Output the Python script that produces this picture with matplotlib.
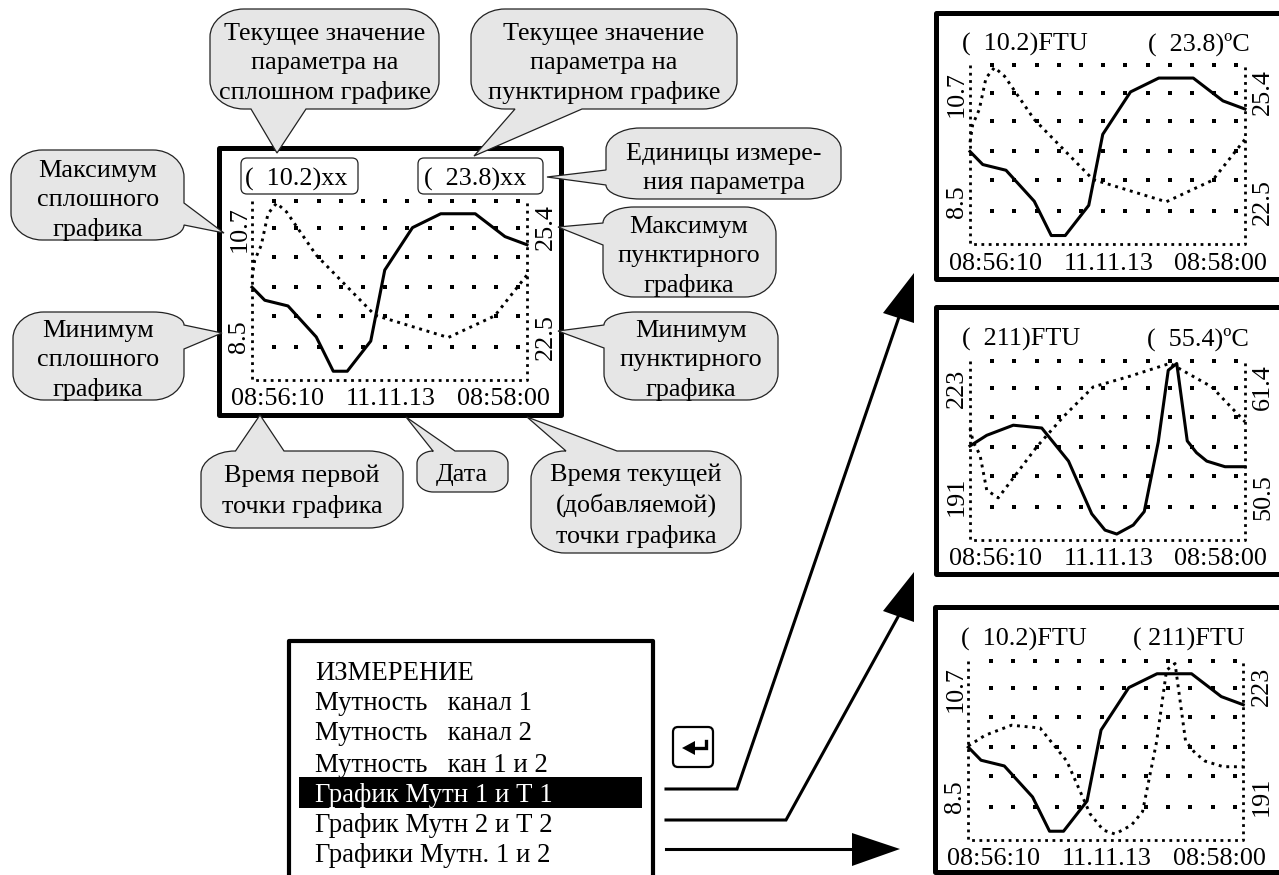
import numpy as np
import matplotlib
matplotlib.use("Agg")
import matplotlib.pyplot as plt
from matplotlib.path import Path
from matplotlib.patches import PathPatch, FancyBboxPatch, Polygon, Rectangle

plt.rcParams['font.family'] = ['Liberation Serif', 'DejaVu Sans']

W, H = 1279, 875
FS = 18.8
GREY = '#e6e6e6'

# seconds since 08:56:10 and values
turb1_t = [0, 5.1, 14.4, 25.7, 32.5, 38.1, 47.5, 53.1, 64.2, 75.5, 89.3, 101.2, 110]
turb1_v = [9.64, 9.48, 9.41, 9.03, 8.61, 8.61, 8.98, 9.85, 10.37, 10.54, 10.54, 10.26, 10.16]
temp1_t = [0, 1.1, 3.7, 6.4, 9.8, 13.8, 25.7, 49.2, 78.5, 97.1, 110]
temp1_v = [24.15, 24.44, 24.68, 25.19, 25.36, 25.22, 24.52, 23.55, 23.19, 23.54, 24.20]
turb2_t = [0, 6.7, 17.3, 28.7, 39.4, 48.7, 54, 58.7, 65.3, 69.7, 75.3, 79.3, 82.7, 86.9, 90.6, 94.7, 102, 110]
turb2_v = [207.8, 209.7, 211.5, 211, 205.1, 195.7, 192.8, 192.1, 193.7, 196.1, 208.5, 221.3, 222.5, 208.7, 206.6, 205.1, 204.1, 204.1]
temp2_t = [0, 1.3, 4, 6.7, 11.3, 26.7, 37.3, 49.3, 64, 80, 96.7, 110]
temp2_v = [57.29, 56.47, 55.67, 53.54, 53.07, 56.17, 57.99, 59.81, 60.46, 61.24, 59.81, 57.69]

time_labels = ['08:56:10', '11.11.13', '08:58:00']
menu_items = ['ИЗМЕРЕНИЕ', 'Мутность   канал 1', 'Мутность   канал 2', 'Мутность   кан 1 и 2',
              'График Мутн 1 и Т 1', 'График Мутн 2 и Т 2', 'Графики Мутн. 1 и 2']

fig = plt.figure(figsize=(W / 100, H / 100), dpi=100)
bg = fig.add_axes([0, 0, 1, 1])
bg.set_xlim(0, W)
bg.set_ylim(H, 0)
bg.axis('off')


def label(x, y, s, **kw):
    kw.setdefault('ha', 'center')
    kw.setdefault('va', 'center')
    bg.text(x, y, s, fontsize=FS, color='black', zorder=6, **kw)


def bubble(x0, y0, x1, y1, side, a, b, tip, text, tx, ty):
    # rounded box with a tail, side says which edge the tail leaves from
    rx = min(34, (x1 - x0) * 0.18)
    ry = min(28, (y1 - y0) * 0.3)
    tr = br = bl = tl = ry
    # keep the corners next to the tail clear of it
    if side == 'right':
        tr = min(ry, a - y0)
        br = min(ry, y1 - b)
    if side == 'left':
        tl = min(ry, a - y0)
        bl = min(ry, y1 - b)
    k = 0.55
    v = [(x0 + rx, y0)]
    c = [Path.MOVETO]
    if side == 'top':
        v += [(a, y0), tip, (b, y0)]
        c += [Path.LINETO] * 3
    v += [(x1 - rx, y0), (x1 - rx + k * rx, y0), (x1, y0 + tr - k * tr), (x1, y0 + tr)]
    c += [Path.LINETO, Path.CURVE4, Path.CURVE4, Path.CURVE4]
    if side == 'right':
        v += [(x1, a), tip, (x1, b)]
        c += [Path.LINETO] * 3
    v += [(x1, y1 - br), (x1, y1 - br + k * br), (x1 - rx + k * rx, y1), (x1 - rx, y1)]
    c += [Path.LINETO, Path.CURVE4, Path.CURVE4, Path.CURVE4]
    if side == 'bottom':
        v += [(b, y1), tip, (a, y1)]
        c += [Path.LINETO] * 3
    v += [(x0 + rx, y1), (x0 + rx - k * rx, y1), (x0, y1 - bl + k * bl), (x0, y1 - bl)]
    c += [Path.LINETO, Path.CURVE4, Path.CURVE4, Path.CURVE4]
    if side == 'left':
        v += [(x0, b), tip, (x0, a)]
        c += [Path.LINETO] * 3
    v += [(x0, y0 + tl), (x0, y0 + tl - k * tl), (x0 + rx - k * rx, y0), (x0 + rx, y0)]
    c += [Path.LINETO, Path.CURVE4, Path.CURVE4, Path.CURVE4]
    v.append(v[0])
    c.append(Path.CLOSEPOLY)
    bg.add_patch(PathPatch(Path(v, c), fc=GREY, ec='#222222', lw=0.9, zorder=4))
    bg.text(tx, ty + 2.5, text, fontsize=FS, ha='center', va='center', linespacing=1.42, zorder=6)


def screen(fx, fy, fw, fh, px, py, left, right, lmin, lmax, rmin, rmax, lab_l, lab_r, lab_rx):
    # frame, then the plot area as its own axes
    bg.add_patch(Rectangle((fx, fy), fw, fh, fc='white', ec='black', lw=3.6, joinstyle='round', zorder=2))
    ax = fig.add_axes([px / W, 1 - (py + 179.5) / H, 275 / W, 179.5 / H])
    ax2 = ax.twinx()
    for a in (ax, ax2):
        a.set_xlim(0, 110)
        a.axis('off')
    ax.set_ylim(lmin, lmax)
    ax2.set_ylim(rmin, rmax)
    ax.set_zorder(ax2.get_zorder() + 1)

    grid_x = np.arange(0, 13) * 22.2 / 275
    grid_y = [0.186, 0.357, 0.52, 0.688, 0.846, 1.0]
    gx, gy = np.meshgrid(grid_x[1:], grid_y)
    ax.scatter(gx.ravel(), gy.ravel(), s=5, marker='s', c='black', linewidths=0,
               transform=ax.transAxes, clip_on=False)
    ax.plot([0, 0, 1, 1], [1, 0, 0, 1], color='black', lw=2, ls=(0, (1, 1.63)),
            dash_capstyle='butt', transform=ax.transAxes, clip_on=False)

    ax.plot(left[0], left[1], color='black', lw=2.2, solid_joinstyle='round', clip_on=False)
    ax2.plot(right[0], right[1], color='black', lw=2.1, ls=(0, (1, 1.63)), dash_capstyle='butt', clip_on=False)

    # rotated scale limits and bottom line
    lx, rx = fx + 21, fx + 327
    label(lx, fy + 81.5, str(lmax), rotation=90)
    label(lx, fy + 189.5, str(lmin), rotation=90)
    label(rx, fy + 79.5, str(rmax), rotation=90)
    label(rx, fy + 189.5, str(rmin), rotation=90)
    for cx, s in zip((59.5, 172.5, 284.5), time_labels):
        label(fx + cx, fy + 251.5, s)
    label(fx + 26.5, fy + 32, lab_l, ha='left')
    label(fx + lab_rx, fy + 32, lab_r, ha='left')


turb1 = (turb1_t, turb1_v)
temp1 = (temp1_t, temp1_v)
turb2 = (turb2_t, turb2_v)
temp2 = (temp2_t, temp2_v)

screen(218.5, 147.5, 342, 267, 252, 200.7, turb1, temp1, 8.5, 10.7, 22.5, 25.4, '(  10.2)xx', '(  23.8)xx', 206)
screen(936, 12.5, 345, 266.5, 970, 65, turb1, temp1, 8.5, 10.7, 22.5, 25.4, '(  10.2)FTU', '(  23.8)ºC', 212)
screen(936, 307.3, 345, 267, 970, 360.7, turb2, temp2, 191, 223, 50.5, 61.4, '(  211)FTU', '(  55.4)ºC', 211)
screen(934.5, 607.3, 347, 264.5, 968.3, 660.7, turb1, turb2, 8.5, 10.7, 191, 223, '(  10.2)FTU', '( 211)FTU', 198.5)

# white boxes round the two values on the main screen
for x0, x1 in ((241, 358), (418, 543)):
    bg.add_patch(FancyBboxPatch((x0, 158), x1 - x0, 36, boxstyle='round,pad=0,rounding_size=6',
                                fc='white', ec='#222222', lw=0.9, zorder=3))

bubble(210, 9, 439, 109, 'bottom', 251, 306, (277, 153), 'Текущее значение\nпараметра на\nсплошном графике', 325, 61)
bubble(471, 9, 737, 109, 'bottom', 515, 582, (474, 156), 'Текущее значение\nпараметра на\nпунктирном графике', 604, 61)
bubble(606, 128, 841, 199, 'left', 170, 185, (547, 177), 'Единицы измере-\nния параметра', 724, 166)
bubble(11, 150, 184, 240, 'right', 203, 225, (224, 233), 'Максимум\nсплошного\nграфика', 98, 198)
bubble(13, 312, 184, 400, 'right', 325, 349, (222, 333), 'Минимум\nсплошного\nграфика', 98, 358)
bubble(603, 207, 776, 297, 'left', 223, 245, (558, 227), 'Максимум\nпунктирного\nграфика', 689, 254)
bubble(604, 312, 778, 400, 'left', 325, 348, (558, 331), 'Минимум\nпунктирного\nграфика', 691, 358)
bubble(201, 451, 403, 528, 'top', 235.5, 284, (260, 415), 'Время первой\nточки графика', 302, 489)
bubble(417, 451, 508, 492, 'top', 433, 455, (406, 417), 'Дата', 462, 473)
bubble(531, 451, 741, 553, 'top', 566, 617, (527, 417), 'Время текущей\n(добавляемой)\nточки графика', 636, 503)

# menu
bg.add_patch(Rectangle((288.5, 641), 364, 250, fc='white', ec='black', lw=3, joinstyle='round', zorder=2))
bg.add_patch(Rectangle((299, 777), 343, 31, fc='black', ec='none', zorder=3))
menu_y = [673, 704, 734, 765, 795, 825, 856]
for i, (s, y) in enumerate(zip(menu_items, menu_y)):
    bg.text(315, y, s, fontsize=19.3, ha='left', va='center', zorder=6, color='white' if i == 4 else 'black')

# enter key
bg.add_patch(FancyBboxPatch((673, 727), 40, 40, boxstyle='round,pad=0,rounding_size=5',
                            fc='white', ec='black', lw=1.6, zorder=3))
bg.add_patch(Polygon([(682, 748), (695, 741), (695, 755)], fc='black', ec='none', zorder=4))
bg.plot([694, 706, 706], [748, 748, 741], color='black', lw=2.4, zorder=4, solid_joinstyle='miter')

# arrows to the three screens
bg.plot([666, 737, 899], [789, 789, 317], color='black', lw=2.2, zorder=5, solid_joinstyle='miter')
bg.add_patch(Polygon([(914, 273), (883, 313), (914, 323)], fc='black', ec='none', zorder=5))
bg.plot([666, 786, 899], [820, 820, 615], color='black', lw=2.2, zorder=5, solid_joinstyle='miter')
bg.add_patch(Polygon([(914, 572), (883, 611), (914, 622)], fc='black', ec='none', zorder=5))
bg.plot([666, 860], [849, 849], color='black', lw=2.2, zorder=5)
bg.add_patch(Polygon([(900, 849), (852, 833), (852, 866)], fc='black', ec='none', zorder=5))

fig.savefig('out.png', dpi=100)
